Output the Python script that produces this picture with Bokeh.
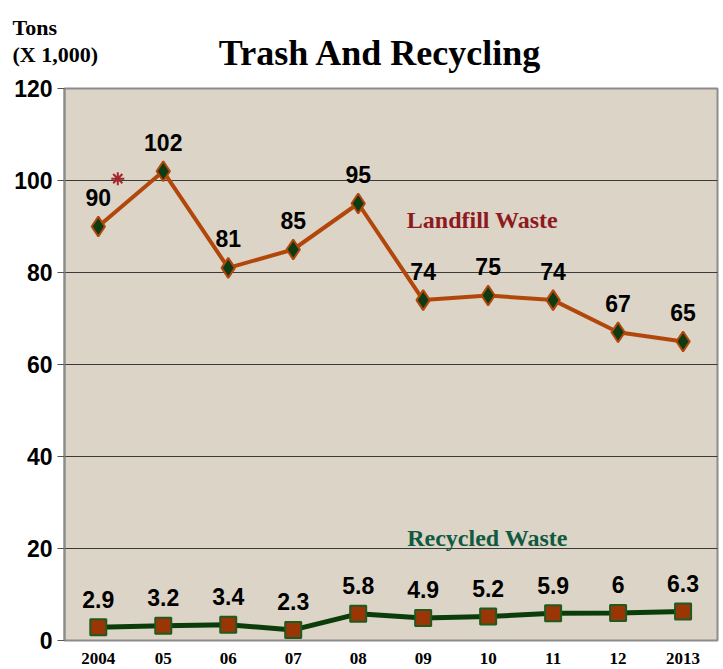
from bokeh.plotting import figure
from bokeh.models import (Range1d, FixedTicker, ColumnDataSource, Label, LinearAxis,
                          BoxAnnotation)
from bokeh.core.properties import value
from bokeh.embed import file_html
from bokeh.resources import INLINE

years = ["2004", "05", "06", "07", "08", "09", "10", "11", "12", "2013"]
landfill = [90, 102, 81, 85, 95, 74, 75, 74, 67, 65]
recycled = [2.9, 3.2, 3.4, 2.3, 5.8, 4.9, 5.2, 5.9, 6, 6.3]
landfill_labels = ["90", "102", "81", "85", "95", "74", "75", "74", "67", "65"]
recycled_labels = ["2.9", "3.2", "3.4", "2.3", "5.8", "4.9", "5.2", "5.9", "6", "6.3"]
y_ticks = [0, 20, 40, 60, 80, 100, 120]
grid_ticks = [20, 40, 60, 80, 100]

SANS = "Liberation Sans"
SERIF = "Liberation Serif"

# ---- geometry (pixels inside the figure) ----
W, H = 723, 669
AREA_L, AREA_R, AREA_T, AREA_B = 64, 717, 88, 640   # plot-area box in figure px
X0, X1 = -0.52, 9.53                                 # data extent of plot area
Y0, Y1 = 0, 120
sx = (AREA_R - AREA_L) / (X1 - X0)
sy = (AREA_B - AREA_T) / (Y1 - Y0)
x_start = X0 - AREA_L / sx
x_end = X1 + (W - AREA_R) / sx
y_start = Y0 - (H - AREA_B) / sy
y_end = Y1 + AREA_T / sy


def px_x(px):   # figure pixel -> data x
    return X0 + (px - AREA_L) / sx


def px_y(py):   # figure pixel (from top) -> data y
    return Y1 + (AREA_T - py) / sy


idx = list(range(len(years)))
src_l = ColumnDataSource(dict(x=idx, y=landfill, t=landfill_labels))
src_r = ColumnDataSource(dict(x=idx, y=recycled, t=recycled_labels))

p = figure(width=W, height=H, output_backend="svg", toolbar_location=None,
           x_range=Range1d(x_start, x_end), y_range=Range1d(y_start, y_end),
           min_border=0, x_axis_type=None, y_axis_type=None)
p.outline_line_color = None
p.background_fill_color = "white"
p.border_fill_color = "white"

# plot area box
p.add_layout(BoxAnnotation(left=X0, right=X1, bottom=Y0, top=Y1,
                           fill_color="#DCD4C7", fill_alpha=1.0,
                           line_color="#8C8C8C", line_width=2, line_alpha=1.0,
                           level="image"))

# gridlines (only across the plot area)
p.segment(x0=[X0] * len(grid_ticks), x1=[X1] * len(grid_ticks),
          y0=grid_ticks, y1=grid_ticks, line_color="#3A3A3A", line_width=1)

# y axis
yax = LinearAxis(fixed_location=X0, ticker=FixedTicker(ticks=y_ticks), bounds=(Y0, Y1))
yax.axis_line_color = "#8C8C8C"
yax.axis_line_width = 2
yax.major_tick_line_color = "#555555"
yax.major_tick_out = 7
yax.major_tick_in = 0
yax.minor_tick_line_color = None
yax.major_label_text_font = SANS
yax.major_label_text_font_style = "bold"
yax.major_label_text_font_size = "23px"
yax.major_label_text_color = "black"
yax.major_label_standoff = 5
p.add_layout(yax, "left")

# x axis
xax = LinearAxis(fixed_location=Y0, ticker=FixedTicker(ticks=idx))
xax.major_label_overrides = {i: y for i, y in enumerate(years)}
xax.axis_line_color = None
xax.major_tick_line_color = None
xax.major_tick_out = 0
xax.major_tick_in = 0
xax.minor_tick_line_color = None
xax.major_label_text_font = SERIF
xax.major_label_text_font_style = "bold"
xax.major_label_text_font_size = "17px"
xax.major_label_text_color = "black"
xax.major_label_standoff = 12
p.add_layout(xax, "below")

# Landfill series
p.line("x", "y", source=src_l, line_color="#B2470C", line_width=4)
p.scatter("x", "y", source=src_l, marker="diamond", size=20,
          fill_color="#0E3B12", line_color="#B2470C", line_width=2)
p.text("x", "y", text="t", source=src_l, y_offset=-29,
       text_align="center", text_baseline="middle",
       text_font=value(SANS), text_font_style="bold", text_font_size="23px",
       text_color="black")

# Recycled series
p.line("x", "y", source=src_r, line_color="#0B3D0B", line_width=5)
p.scatter("x", "y", source=src_r, marker="square", size=16,
          fill_color="#9A3606", line_color="#1F5A1F", line_width=2)
p.text("x", "y", text="t", source=src_r, y_offset=-28,
       text_align="center", text_baseline="middle",
       text_font=value(SANS), text_font_style="bold", text_font_size="23px",
       text_color="black")

# small decorative star
p.scatter(x=[0.3], y=[100.4], marker="asterisk", size=13,
          line_color="#A3262C", line_width=2)

p.add_layout(Label(x=px_x(482), y=px_y(219), text="Landfill Waste", text_align="center",
                   text_baseline="middle", text_font=SERIF, text_font_style="bold",
                   text_font_size="24px", text_color="#8E1A1E"))
p.add_layout(Label(x=px_x(487), y=px_y(537), text="Recycled Waste", text_align="center",
                   text_baseline="middle", text_font=SERIF, text_font_style="bold",
                   text_font_size="24px", text_color="#0F5A40"))

# header texts
p.add_layout(Label(x=px_x(380), y=px_y(52), text="Trash And Recycling", text_align="center",
                   text_baseline="alphabetic", text_font=SERIF, text_font_style="bold",
                   text_font_size="36px", text_color="black"))
p.add_layout(Label(x=px_x(12), y=px_y(27), text="Tons", text_align="left",
                   text_baseline="alphabetic", text_font=SERIF, text_font_style="bold",
                   text_font_size="22px", text_color="black"))
p.add_layout(Label(x=px_x(12), y=px_y(54), text="(X 1,000)", text_align="left",
                   text_baseline="alphabetic", text_font=SERIF, text_font_style="bold",
                   text_font_size="22px", text_color="black"))

open("out.html", "w").write(file_html(p, INLINE))
